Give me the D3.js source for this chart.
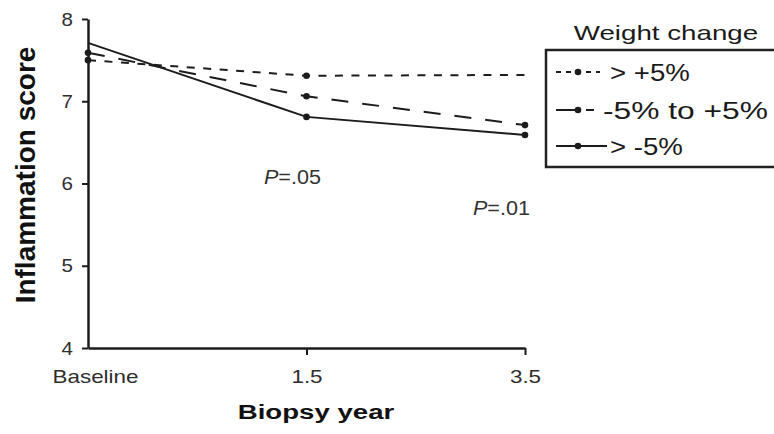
<!DOCTYPE html>
<html>
<head>
<meta charset="utf-8">
<script src="https://cdn.jsdelivr.net/npm/d3@7"></script>
<style>
  html, body { margin: 0; padding: 0; background: #fff; }
  text { font-family: "Liberation Sans", Arial, Helvetica, sans-serif; }
</style>
</head>
<body>
<svg id="chart" width="774" height="434"></svg>
<script>
// ---------- data ----------
const categories = ["Baseline", "1.5", "3.5"];
const yTicks = [4, 5, 6, 7, 8];
const seriesNames = ["> +5%", "-5% to +5%", "> -5%"];
const gainOver5 = [7.50, 7.31, 7.32];
const stable5 = [7.59, 7.06, 6.71];
const lossOver5 = [7.71, 6.81, 6.59];
const pLabels = [
  { cat: "1.5", value: 6.0, text: ".05" },
  { cat: "3.5", value: 5.62, text: ".01" }
];
const legendTitle = "Weight change";
const xTitle = "Biopsy year";
const yTitle = "Inflammation score";

// ---------- styles / layout ----------
const series = [
  { name: seriesNames[0], values: gainOver5, dash: "8,8.5", legendDash: "5,5", markers: [1, 1, 0] },
  { name: seriesNames[1], values: stable5, dash: "17,14", legendDash: "20,10,8,100", markers: [1, 1, 1] },
  { name: seriesNames[2], values: lossOver5, dash: null, legendDash: null, markers: [0, 1, 1] }
];
const ink = "#1c1c1c";
const svg = d3.select("#chart");

function stretch(sel, f) {
  sel.each(function () {
    const w = this.getComputedTextLength();
    d3.select(this).attr("textLength", w * f).attr("lengthAdjust", "spacingAndGlyphs");
  });
}

const x = d3.scalePoint().domain(categories).range([88, 525]).padding(0);
const y = d3.scaleLinear().domain([4, 8]).range([348, 19]);

// ---------- axes ----------
const yAxis = svg.append("g")
  .attr("transform", `translate(${x(categories[0])},0)`)
  .call(d3.axisLeft(y).tickValues(yTicks).tickFormat(d3.format("d")).tickSize(6).tickSizeOuter(0).tickPadding(9));
yAxis.select(".domain").attr("stroke", ink).attr("stroke-width", 2.5);
yAxis.selectAll(".tick line").attr("stroke", ink).attr("stroke-width", 2);
yAxis.selectAll(".tick text").attr("font-size", 19).attr("fill", "#2e2e2e")
  .attr("font-family", "'Liberation Sans', Arial, sans-serif");
stretch(yAxis.selectAll(".tick text"), 1.08);

const xAxis = svg.append("g")
  .attr("transform", `translate(0,${y(4)})`)
  .call(d3.axisBottom(x).tickSize(7).tickSizeOuter(0).tickPadding(15));
xAxis.select(".domain").attr("stroke", ink).attr("stroke-width", 2.5);
xAxis.selectAll(".tick line").attr("stroke", ink).attr("stroke-width", 2)
  .attr("display", (d, i) => i === 0 ? "none" : null);
xAxis.selectAll(".tick text").attr("font-size", 19).attr("fill", "#2e2e2e")
  .attr("font-family", "'Liberation Sans', Arial, sans-serif")
  .attr("dx", (d, i) => i === 0 ? 7 : 0);
stretch(xAxis.selectAll(".tick text"), 1.18);

// ---------- lines ----------
const line = d3.line().x((d, i) => x(categories[i])).y(d => y(d));
const g = svg.append("g");
series.forEach(s => {
  g.append("path")
    .datum(s.values)
    .attr("d", line)
    .attr("fill", "none")
    .attr("stroke", ink)
    .attr("stroke-width", 2)
    .attr("stroke-dasharray", s.dash);
});
series.forEach(s => {
  g.selectAll(null)
    .data(s.values.map((v, i) => ({ v, i })).filter(d => s.markers[d.i]))
    .enter().append("circle")
    .attr("cx", d => x(categories[d.i]))
    .attr("cy", d => y(d.v))
    .attr("r", 3.3)
    .attr("fill", ink);
});

// ---------- P annotations ----------
pLabels.forEach((p, i) => {
  const t = svg.append("text")
    .attr("x", x(p.cat) + (i === 0 ? -14 : 5))
    .attr("y", y(p.value))
    .attr("text-anchor", i === 0 ? "middle" : "end")
    .attr("font-size", 20)
    .attr("fill", "#333");
  t.append("tspan").attr("font-style", "italic").text("P");
  t.append("tspan").text("=" + p.text);
  stretch(t, 1.08);
});

// ---------- axis titles ----------
svg.append("text")
  .attr("transform", `translate(35,175) rotate(-90)`)
  .attr("text-anchor", "middle")
  .attr("font-size", 28)
  .attr("font-weight", "bold")
  .attr("fill", "#111")
  .text(yTitle);

const xt = svg.append("text")
  .attr("x", 316).attr("y", 419)
  .attr("text-anchor", "middle")
  .attr("font-size", 20)
  .attr("font-weight", "bold")
  .attr("fill", "#111")
  .text(xTitle);
stretch(xt, 1.38);

// ---------- legend ----------
const lt = svg.append("text")
  .attr("x", 666).attr("y", 40)
  .attr("text-anchor", "middle")
  .attr("font-size", 21)
  .attr("fill", "#1a1a1a")
  .text(legendTitle);
stretch(lt, 1.32);

svg.append("rect")
  .attr("x", 546).attr("y", 50)
  .attr("width", 260).attr("height", 117)
  .attr("fill", "none")
  .attr("stroke", "#222")
  .attr("stroke-width", 2.5);

const rowY = [72, 110, 146];
series.forEach((s, i) => {
  const ry = rowY[i];
  svg.append("line")
    .attr("x1", 556).attr("x2", i === 2 ? 607 : 600)
    .attr("y1", ry).attr("y2", ry)
    .attr("stroke", ink).attr("stroke-width", 2)
    .attr("stroke-dasharray", s.legendDash);
  svg.append("circle").attr("cx", 578).attr("cy", ry).attr("r", 3.3).attr("fill", ink);
  const t = svg.append("text")
    .attr("x", i === 1 ? 603 : 610).attr("y", ry + 9)
    .attr("font-size", 23)
    .attr("fill", "#1a1a1a")
    .text(s.name);
  stretch(t, i === 1 ? 1.38 : 1.2);
});
</script>
</body>
</html>
